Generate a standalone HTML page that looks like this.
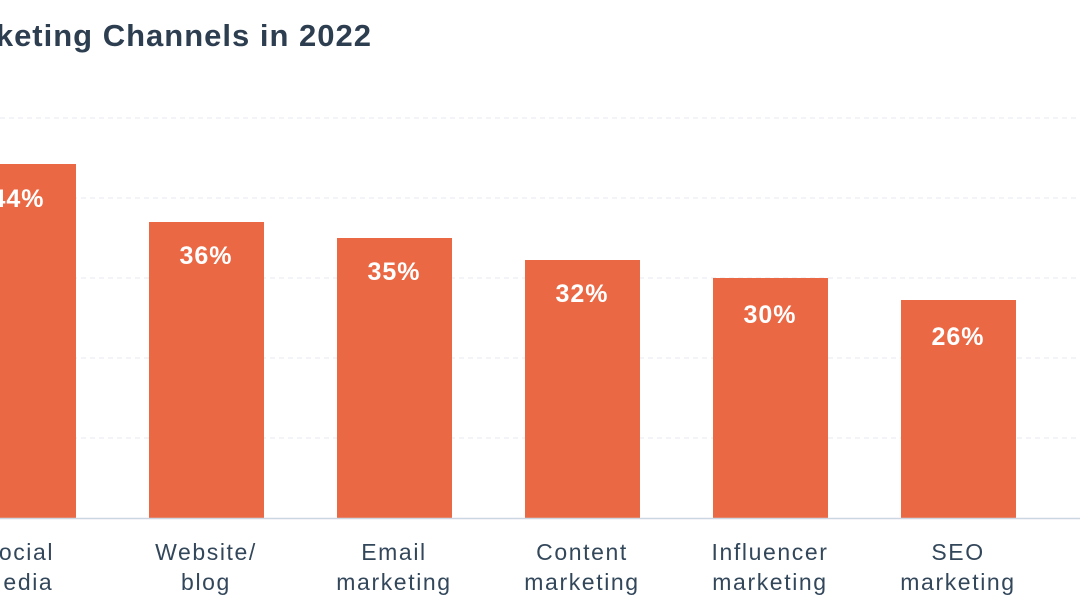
<!DOCTYPE html>
<html><head><meta charset="utf-8"><style>
html,body{margin:0;padding:0;background:#fff;width:1080px;height:616px;overflow:hidden}
svg{display:block}
</style></head><body>
<svg width="1080" height="616" viewBox="0 0 1080 616" xmlns="http://www.w3.org/2000/svg" font-family="Liberation Sans, sans-serif">
<text x="372" y="46" text-anchor="end" font-size="31" font-weight="bold" fill="#2d3e50" letter-spacing="1">Top Marketing Channels in 2022</text>
<g stroke="#e6eaef" stroke-width="1" stroke-dasharray="5,4">
<line x1="0" y1="118" x2="1080" y2="118"/>
<line x1="0" y1="198" x2="1080" y2="198"/>
<line x1="0" y1="278" x2="1080" y2="278"/>
<line x1="0" y1="358" x2="1080" y2="358"/>
<line x1="0" y1="438" x2="1080" y2="438"/>
</g>
<g fill="#eb6845">
<rect x="-39" y="164" width="115" height="354"/>
<rect x="149" y="222" width="115" height="296"/>
<rect x="337" y="238" width="115" height="280"/>
<rect x="525" y="260" width="115" height="258"/>
<rect x="713" y="278" width="115" height="240"/>
<rect x="901" y="300" width="115" height="218"/>
</g>
<line x1="0" y1="518.5" x2="1080" y2="518.5" stroke="#cbd6e2" stroke-width="1.5"/>
<g fill="#fff" font-size="25" font-weight="bold" text-anchor="middle" letter-spacing="1">
<text x="18" y="207">44%</text>
<text x="206" y="264">36%</text>
<text x="394" y="280">35%</text>
<text x="582" y="302">32%</text>
<text x="770" y="323">30%</text>
<text x="958" y="345">26%</text>
</g>
<g fill="#33475b" font-size="23" text-anchor="middle" letter-spacing="1.6">
<text x="18" y="560">Social</text><text x="18" y="590">Media</text>
<text x="206" y="560">Website/</text><text x="206" y="590">blog</text>
<text x="394" y="560">Email</text><text x="394" y="590">marketing</text>
<text x="582" y="560">Content</text><text x="582" y="590">marketing</text>
<text x="770" y="560">Influencer</text><text x="770" y="590">marketing</text>
<text x="958" y="560">SEO</text><text x="958" y="590">marketing</text>
</g>
</svg>
</body></html>
